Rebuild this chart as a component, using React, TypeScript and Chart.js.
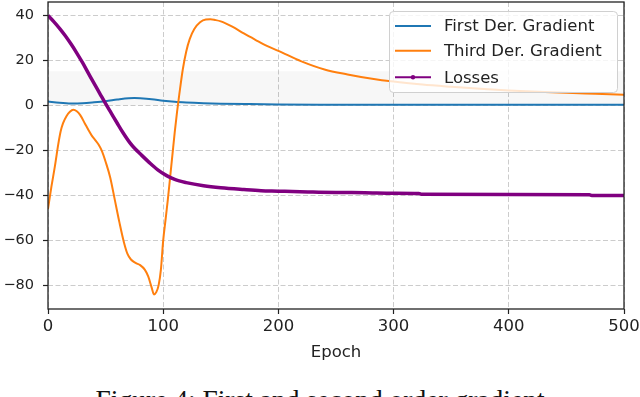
import React, { useEffect, useRef } from "react";
import { Chart, registerables } from "chart.js";

Chart.register(...registerables);

// ---- data ----
const firstDerEpochs = [0, 10, 20, 30, 40, 50, 60, 70, 75, 80, 90, 100, 110, 120, 135, 150, 175, 200, 250, 300, 400, 500];
const firstDerValues = [1.8, 1.2, 0.9, 1.0, 1.4, 1.9, 2.6, 3.2, 3.3, 3.2, 2.8, 2.1, 1.6, 1.3, 1.0, 0.8, 0.6, 0.45, 0.35, 0.3, 0.3, 0.3];

const thirdDerEpochs = [0, 3, 6, 9, 11, 13, 16, 19, 22, 25, 28, 32, 35, 38, 41, 44, 47, 50, 54, 58, 62, 66, 69, 72, 76, 80, 84, 87, 90, 92, 94, 96, 98, 100, 102, 104, 106, 108, 110, 112, 114, 117, 120, 123, 127, 132, 137, 141, 145, 150, 160, 170, 180, 190, 200, 220, 240, 260, 280, 300, 325, 350, 375, 400, 425, 450, 475, 500];
const thirdDerValues = [-46, -36, -27, -17, -11.5, -8, -4.8, -2.8, -1.9, -2.6, -4.3, -8, -10.8, -13.4, -15.4, -17.5, -20.5, -25, -32, -42, -52, -61, -66, -68.5, -70, -71, -73, -76, -81, -84, -83, -80, -73, -60, -51, -42, -32, -22, -12, -3, 5, 16, 24, 29.5, 34, 37, 38.2, 38.3, 38, 37.4, 35, 32, 29.2, 26.5, 24.3, 19.6, 16, 13.8, 12, 10.6, 9.3, 8.3, 7.4, 6.7, 6.1, 5.6, 5.2, 4.8];

const lossEpochs = [0, 5, 10, 15, 20, 25, 30, 35, 40, 45, 50, 55, 60, 65, 71, 76, 80, 88, 95, 103, 110, 120, 135, 150, 170, 185, 200, 212, 230, 250, 275, 300, 322, 324, 400, 470, 472, 500];
const lossValues = [40, 37.3, 34.3, 31, 27.3, 23.3, 19, 14.4, 9.8, 5.3, 0.8, -3.5, -7.8, -12, -16.5, -19.5, -21.5, -25.4, -28.5, -31.2, -32.9, -34.3, -35.7, -36.6, -37.4, -37.9, -38.1, -38.3, -38.5, -38.7, -38.8, -39, -39.1, -39.5, -39.6, -39.7, -40, -40];

const bandEpochs = [0, 500];
const bandValues = [15.2, 15.2];

const seriesLabels = ["First Der. Gradient", "Third Der. Gradient", "Losses"];
const xTicks = [0, 100, 200, 300, 400, 500];
const yTicks = [-80, -60, -40, -20, 0, 20, 40];
const xAxisTitle = "Epoch";
const captionText = "Figure 4: First and second order gradient";

const BLUE = "#1f77b4";
const ORANGE = "#ff7f0e";
const PURPLE = "#800080";

const toPoints = (xs: number[], ys: number[]) => xs.map((x, i) => ({ x, y: ys[i] }));

const spinesAndLegend = {
  id: "spinesAndLegend",
  afterDraw(chart: any) {
    const { ctx, chartArea } = chart;
    ctx.save();
    // spines
    ctx.strokeStyle = "#222";
    ctx.lineWidth = 1.3;
    ctx.strokeRect(chartArea.left, chartArea.top, chartArea.right - chartArea.left, chartArea.bottom - chartArea.top);

    // legend box
    const bx = 389.5, by = 11.5, bw = 228, bh = 81, r = 4;
    ctx.beginPath();
    ctx.moveTo(bx + r, by);
    ctx.lineTo(bx + bw - r, by);
    ctx.arcTo(bx + bw, by, bx + bw, by + r, r);
    ctx.lineTo(bx + bw, by + bh - r);
    ctx.arcTo(bx + bw, by + bh, bx + bw - r, by + bh, r);
    ctx.lineTo(bx + r, by + bh);
    ctx.arcTo(bx, by + bh, bx, by + bh - r, r);
    ctx.lineTo(bx, by + r);
    ctx.arcTo(bx, by, bx + r, by, r);
    ctx.closePath();
    ctx.fillStyle = "rgba(255,255,255,0.8)";
    ctx.fill();
    ctx.strokeStyle = "#d0d0d0";
    ctx.lineWidth = 1;
    ctx.stroke();

    const rows = [26, 50.7, 77.3];
    const colors = [BLUE, ORANGE, PURPLE];
    ctx.font = '16.5px "DejaVu Sans"';
    ctx.textBaseline = "middle";
    ctx.textAlign = "left";
    rows.forEach((y, i) => {
      ctx.beginPath();
      ctx.strokeStyle = colors[i];
      ctx.lineWidth = 2;
      ctx.moveTo(395, y);
      ctx.lineTo(431, y);
      ctx.stroke();
      if (i === 2) {
        ctx.beginPath();
        ctx.fillStyle = colors[i];
        ctx.arc(413, y, 2.2, 0, Math.PI * 2);
        ctx.fill();
      }
      ctx.fillStyle = "#222";
      ctx.fillText(seriesLabels[i], 444, y + 1);
    });
    ctx.restore();
  },
};

export default function App() {
  const ref = useRef<HTMLCanvasElement>(null);

  useEffect(() => {
    document.body.style.margin = "0";
    const canvas = ref.current!;
    const gridCommon = {
      color: "#cccccc",
      lineWidth: 1,
      drawTicks: true,
      tickLength: 5,
      tickColor: "#222",
      tickWidth: 1.2,
      tickBorderDash: [],
    };
    const zeroPad = (s: any) => {
      s.paddingTop = 0;
      s.paddingBottom = 0;
      s.paddingLeft = 0;
      s.paddingRight = 0;
    };
    const chart = new Chart(canvas, {
      type: "line",
      data: {
        datasets: [
          {
            label: seriesLabels[2],
            data: toPoints(lossEpochs, lossValues),
            borderColor: PURPLE,
            borderWidth: 3.5,
            pointRadius: 0,
            cubicInterpolationMode: "monotone",
            fill: false,
            order: 1,
          },
          {
            label: seriesLabels[1],
            data: toPoints(thirdDerEpochs, thirdDerValues),
            borderColor: ORANGE,
            borderWidth: 2,
            pointRadius: 0,
            cubicInterpolationMode: "monotone",
            fill: false,
            order: 2,
          },
          {
            label: seriesLabels[0],
            data: toPoints(firstDerEpochs, firstDerValues),
            borderColor: BLUE,
            borderWidth: 2,
            pointRadius: 0,
            cubicInterpolationMode: "monotone",
            fill: false,
            order: 3,
          },
          {
            label: "band",
            data: toPoints(bandEpochs, bandValues),
            borderWidth: 0,
            borderColor: "rgba(0,0,0,0)",
            backgroundColor: "rgba(0,0,0,0.03)",
            pointRadius: 0,
            fill: "origin",
            order: 10,
          },
        ],
      },
      options: {
        responsive: false,
        animation: false,
        events: [],
        layout: { padding: { left: 0, right: 16, top: 2, bottom: 7 } },
        plugins: { legend: { display: false }, tooltip: { enabled: false } },
        scales: {
          x: {
            type: "linear",
            min: 0,
            max: 500,
            afterBuildTicks: (s: any) => {
              s.ticks = xTicks.map((v) => ({ value: v }));
            },
            afterFit: (s: any) => {
              s.height = 370 - 7 - 309;
              zeroPad(s);
            },
            grid: gridCommon,
            border: { display: false, dash: [5, 2.5] },
            ticks: {
              color: "#222",
              font: { family: '"DejaVu Sans"', size: 16.5 },
              padding: 3,
              maxRotation: 0,
              autoSkip: false,
              callback: (v: any) => String(v),
            },
            title: {
              display: true,
              text: xAxisTitle,
              color: "#222",
              font: { family: '"DejaVu Sans"', size: 16.5 },
              padding: { top: 0, bottom: 0 },
            },
          },
          y: {
            type: "linear",
            min: -90.5,
            max: 46,
            afterBuildTicks: (s: any) => {
              s.ticks = yTicks.map((v) => ({ value: v }));
            },
            afterFit: (s: any) => {
              s.width = 48;
              zeroPad(s);
            },
            grid: gridCommon,
            border: { display: false, dash: [5, 2.5] },
            ticks: {
              color: "#222",
              font: { family: '"DejaVu Sans"', size: 14.5 },
              padding: 9,
              autoSkip: false,
              callback: (v: any) => (v < 0 ? "\u2212" + Math.abs(v) : String(v)),
            },
          },
        },
      },
      plugins: [spinesAndLegend],
    } as any);
    return () => chart.destroy();
  }, []);

  return (
    <div style={{ position: "relative", width: 640, height: 397, overflow: "hidden", background: "#fff" }}>
      <canvas ref={ref} width={640} height={370} style={{ display: "block", width: 640, height: 370 }} />
      <div
        style={{
          position: "absolute",
          left: 0,
          top: 385,
          width: 640,
          textAlign: "center",
          fontFamily: '"Liberation Serif", serif',
          fontSize: 27.5,
          lineHeight: "30px",
          color: "#111",
          whiteSpace: "nowrap",
        }}
      >
        {captionText}
      </div>
    </div>
  );
}
